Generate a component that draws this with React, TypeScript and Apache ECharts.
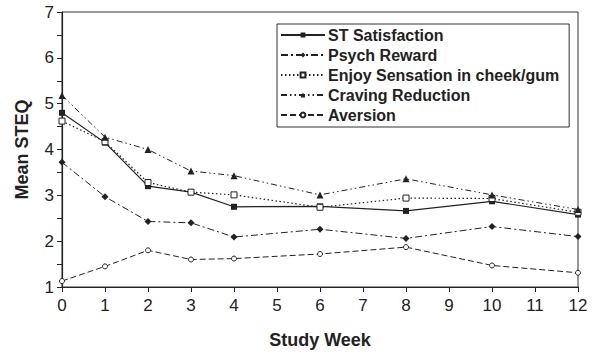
import React, { useEffect, useRef } from "react";
import * as echarts from "echarts";

const weeks = [0, 1, 2, 3, 4, 6, 8, 10, 12];
const stSatisfaction = [4.8, 4.15, 3.2, 3.07, 2.75, 2.76, 2.66, 2.87, 2.58];
const psychReward = [3.72, 2.97, 2.43, 2.4, 2.09, 2.26, 2.06, 2.32, 2.1];
const enjoySensation = [4.62, 4.17, 3.28, 3.07, 3.01, 2.74, 2.94, 2.93, 2.63];
const cravingReduction = [5.18, 4.27, 4.0, 3.53, 3.43, 3.01, 3.36, 3.01, 2.69];
const aversion = [1.13, 1.45, 1.8, 1.6, 1.62, 1.72, 1.87, 1.47, 1.31];

const seriesNames = [
  "ST Satisfaction",
  "Psych Reward",
  "Enjoy Sensation in cheek/gum",
  "Craving Reduction",
  "Aversion",
];

const FONT = "Liberation Sans, Arial, Helvetica, sans-serif";
const INK = "#222";

function pairs(vals: number[]) {
  return weeks.map((w, i) => [w, vals[i]]);
}

export default function App() {
  const ref = useRef<HTMLDivElement>(null);
  useEffect(() => {
    if (!ref.current) return;
    const chart = echarts.init(ref.current, null, { renderer: "svg" });
    const mk = (
      name: string,
      vals: number[],
      symbol: string,
      size: number,
      filled: boolean,
      lineType: any,
      width: number
    ) => ({
      name,
      type: "line",
      data: pairs(vals),
      symbol,
      symbolSize: size,
      showAllSymbol: true,
      itemStyle: {
        color: filled ? INK : "#fff",
        borderColor: INK,
        borderWidth: filled ? 0 : 1,
      },
      lineStyle: { color: INK, width, type: lineType },
      emphasis: { disabled: true },
    });
    chart.setOption({
      animation: false,
      textStyle: { fontFamily: FONT },
      grid: {
        left: 62,
        right: 16,
        top: 12,
        bottom: 65,
        show: true,
        borderColor: "#333",
        borderWidth: 1,
        backgroundColor: "transparent",
      },
      legend: {
        orient: "vertical",
        left: 277,
        top: 24,
        data: seriesNames,
        itemWidth: 44,
        itemHeight: 6,
        itemGap: 4,
        padding: [3, 10, 4, 3],
        borderColor: "#333",
        borderWidth: 1,
        selectedMode: false,
        textStyle: {
          fontFamily: FONT,
          fontSize: 16,
          fontWeight: "bold",
          color: INK,
          padding: [0, 0, 0, -2],
        },
      },
      xAxis: {
        type: "value",
        min: 0,
        max: 12,
        interval: 1,
        name: "Study Week",
        nameLocation: "middle",
        nameGap: 44,
        nameTextStyle: { fontFamily: FONT, fontSize: 18, fontWeight: "bold", color: INK },
        axisLine: { lineStyle: { color: "#222", width: 1.2 } },
        axisTick: { show: true, length: 5, lineStyle: { color: "#222" } },
        axisLabel: { fontFamily: FONT, fontSize: 17, color: INK, margin: 10 },
        splitLine: { show: false },
      },
      yAxis: {
        type: "value",
        min: 1,
        max: 7,
        interval: 1,
        name: "Mean STEQ",
        nameLocation: "middle",
        nameGap: 31,
        nameRotate: 90,
        nameTextStyle: { fontFamily: FONT, fontSize: 18, fontWeight: "bold", color: INK },
        axisLine: { show: true, lineStyle: { color: "#222", width: 1.2 } },
        axisTick: { show: true, length: 5, lineStyle: { color: "#222" } },
        minorTick: { show: true, splitNumber: 2, length: 5, lineStyle: { color: "#222" } },
        axisLabel: { fontFamily: FONT, fontSize: 17, color: INK, margin: 8 },
        splitLine: { show: false },
      },
      series: [
        mk(seriesNames[0], stSatisfaction, "rect", 6, true, "solid", 1.2),
        mk(seriesNames[1], psychReward, "diamond", 7, true, [7, 3, 2, 3], 1),
        mk(seriesNames[2], enjoySensation, "rect", 6, false, [1.5, 2.5], 1.2),
        mk(seriesNames[3], cravingReduction, "triangle", 7, true, [6, 3, 1.5, 3, 1.5, 3], 1),
        mk(seriesNames[4], aversion, "circle", 5, false, [6, 3], 1),
      ],
    });
    return () => chart.dispose();
  }, []);
  return (
    <div
      ref={ref}
      style={{ position: "fixed", left: 0, top: 0, width: 594, height: 354, background: "#fff" }}
    />
  );
}
